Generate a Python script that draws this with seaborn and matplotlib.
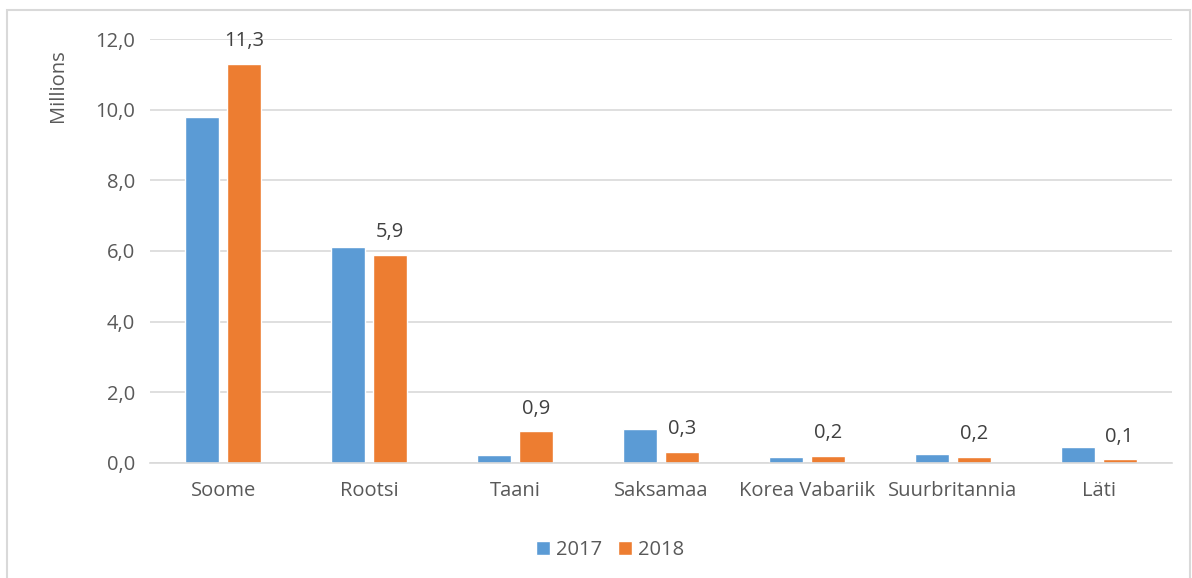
import matplotlib
matplotlib.use("Agg")
import matplotlib.pyplot as plt
import pandas as pd
import seaborn as sns
from matplotlib.patches import Rectangle

# values (millions)
countries = ["Soome", "Rootsi", "Taani", "Saksamaa", "Korea Vabariik", "Suurbritannia", "Läti"]
values_2017 = [9.8, 6.1, 0.23, 0.97, 0.17, 0.24, 0.45]
values_2018 = [11.3, 5.9, 0.9, 0.32, 0.2, 0.18, 0.1]
years = ["2017", "2018"]
y_ticks = [0, 2, 4, 6, 8, 10, 12]

sns.set_style("white")
plt.rcParams["font.family"] = ["Open Sans", "DejaVu Sans"]

df = pd.DataFrame({
    "country": countries * 2,
    "year": [years[0]] * len(countries) + [years[1]] * len(countries),
    "value": values_2017 + values_2018,
})

fig = plt.figure(figsize=(11.92, 5.78), dpi=100)
ax = fig.add_axes([0.126, 0.199, 0.857, 0.7335])

# light frame round the whole chart
fig.patches.append(Rectangle((0.006, -0.01), 0.992, 0.993, transform=fig.transFigure,
                             fill=False, edgecolor="#d9d9d9", linewidth=1.5))

sns.barplot(data=df, x="country", y="value", hue="year",
            palette=["#5B9BD5", "#ED7D31"], width=0.57, gap=0.18,
            ax=ax, saturation=1, legend=True)

ax.set_ylim(0, 12)
ax.set_yticks(y_ticks)
ax.set_yticklabels([f"{t:.1f}".replace(".", ",") for t in y_ticks])
ax.yaxis.grid(True, color="#d9d9d9", linewidth=1.2)
ax.set_axisbelow(True)
for s in ["top", "right", "left"]:
    ax.spines[s].set_visible(False)
ax.spines["bottom"].set_color("#d9d9d9")
ax.spines["bottom"].set_linewidth(1.2)
ax.tick_params(axis="both", length=0, labelsize=14.5, colors="#595959")
ax.tick_params(axis="x", pad=13)
ax.tick_params(axis="y", pad=11)
ax.set_xlabel("")
ax.set_ylabel("")
ax.set_xlim(-0.5, len(countries) - 0.5)

ax.text(-0.09, 0.89, "Millions", transform=ax.transAxes, rotation=90,
        ha="center", va="center", fontsize=14.5, color="#595959")

# labels on 2018 bars only
for v, bar in zip(values_2018, ax.containers[1]):
    ax.annotate(f"{v:.1f}".replace(".", ","),
                (bar.get_x() + bar.get_width() / 2, bar.get_height()),
                xytext=(0, 9), textcoords="offset points",
                ha="center", va="bottom", fontsize=14.5, color="#404040")

leg = ax.legend(loc="upper center", bbox_to_anchor=(0.45, -0.14), ncol=2,
                frameon=False, fontsize=14.5, handlelength=0.7, handleheight=0.7,
                columnspacing=0.8, handletextpad=0.3)
for t in leg.get_texts():
    t.set_color("#595959")

fig.savefig("out.png", dpi=100)
